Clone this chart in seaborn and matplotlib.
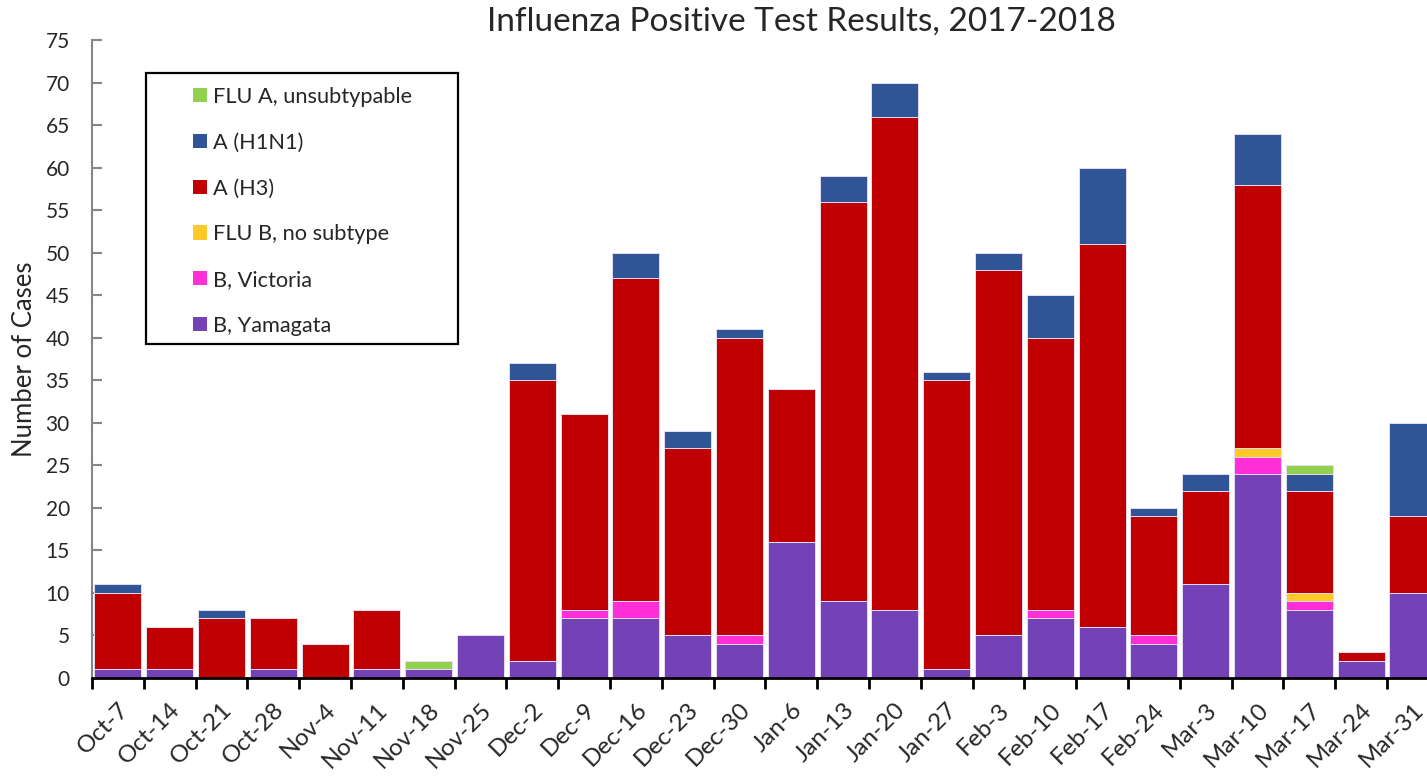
import matplotlib
matplotlib.use("Agg")
import matplotlib.pyplot as plt
from matplotlib.patches import Patch, Rectangle
from matplotlib.ticker import MultipleLocator, FixedLocator
import seaborn as sns
import numpy as np
import pandas as pd

weeks = ["Oct-7", "Oct-14", "Oct-21", "Oct-28", "Nov-4", "Nov-11", "Nov-18", "Nov-25",
         "Dec-2", "Dec-9", "Dec-16", "Dec-23", "Dec-30", "Jan-6", "Jan-13", "Jan-20",
         "Jan-27", "Feb-3", "Feb-10", "Feb-17", "Feb-24", "Mar-3", "Mar-10", "Mar-17",
         "Mar-24", "Mar-31"]

b_yamagata = [1, 1, 0, 1, 0, 1, 1, 5, 2, 7, 7, 5, 4, 16, 9, 8, 1, 5, 7, 6, 4, 11, 24, 8, 2, 10]
b_victoria = [0, 0, 0, 0, 0, 0, 0, 0, 0, 1, 2, 0, 1, 0, 0, 0, 0, 0, 1, 0, 1, 0, 2, 1, 0, 0]
flu_b_nosub = [0, 0, 0, 0, 0, 0, 0, 0, 0, 0, 0, 0, 0, 0, 0, 0, 0, 0, 0, 0, 0, 0, 1, 1, 0, 0]
a_h3 = [9, 5, 7, 6, 4, 7, 0, 0, 33, 23, 38, 22, 35, 18, 47, 58, 34, 43, 32, 45, 14, 11, 31, 12, 1, 9]
a_h1n1 = [1, 0, 1, 0, 0, 0, 0, 0, 2, 0, 3, 2, 1, 0, 3, 4, 1, 2, 5, 9, 1, 2, 6, 2, 0, 11]
flu_a_unsub = [0, 0, 0, 0, 0, 0, 1, 0, 0, 0, 0, 0, 0, 0, 0, 0, 0, 0, 0, 0, 0, 0, 0, 1, 0, 0]

series_names = ["B, Yamagata", "B, Victoria", "FLU B, no subtype", "A (H3)", "A (H1N1)",
                "FLU A, unsubtypable"]
series_vals = [b_yamagata, b_victoria, flu_b_nosub, a_h3, a_h1n1, flu_a_unsub]
colors = ["#7442B7", "#FF2FD8", "#FFCA29", "#C00000", "#2F5597", "#92D050"]

FONT = ["Lato", "DejaVu Sans"]
sns.set_style("white")
plt.rcParams["font.family"] = FONT

W, H = 1427, 777
fig = plt.figure(figsize=(W / 100, H / 100), dpi=100)
cat_w = 51.8
ax_left, ax_bottom, ax_top = 92, 678, 40
ax = fig.add_axes([ax_left / W, (H - ax_bottom) / H, 26 * cat_w / W, (ax_bottom - ax_top) / H])

cum = np.zeros(len(weeks))
cums = []
for v in series_vals:
    cum = cum + np.array(v)
    cums.append(cum.copy())

# draw from top layer down so lower layers overdraw
for name, c, col in reversed(list(zip(series_names, cums, colors))):
    d = pd.DataFrame({"week": weeks, "val": c})
    sns.barplot(data=d, x="week", y="val", color=col, width=0.905, ax=ax,
                edgecolor="#E6DDF0", linewidth=0.7, saturation=1, order=weeks)

ax.set_xlim(-0.5, 25.5)
ax.set_ylim(0, 75)
ax.yaxis.set_major_locator(MultipleLocator(5))

for s in ["top", "right"]:
    ax.spines[s].set_visible(False)
ax.spines["left"].set_color("#868686")
ax.spines["left"].set_linewidth(1.5)
ax.spines["bottom"].set_color("black")
ax.spines["bottom"].set_linewidth(2)

ax.tick_params(axis="y", direction="in", length=7, width=1.5, color="#868686",
               labelsize=15, pad=16, left=True)
ax.set_xticks(range(len(weeks)))
ax.set_xticklabels(weeks, rotation=45, ha="right", rotation_mode="anchor", fontsize=17.5)
ax.tick_params(axis="x", which="major", length=0, pad=15)
ax.xaxis.set_minor_locator(FixedLocator(np.arange(-0.5, 26, 1)))
ax.tick_params(axis="x", which="minor", direction="out", length=8, width=2, color="black", bottom=True)
ax.set_xlabel("")
ax.set_ylabel("Number of Cases", fontsize=18.5, labelpad=6)

fig.text(801 / W, 1 - 22 / H, "Influenza Positive Test Results, 2017-2018",
         ha="center", va="center", fontsize=24)

# legend
handles = [Patch(facecolor=c, edgecolor="none") for c in reversed(colors)]
labels = list(reversed(series_names))
leg = fig.legend(handles, labels, loc="upper left",
                 bbox_to_anchor=(193 / W, 1 - 87 / H), bbox_transform=fig.transFigure,
                 frameon=False, fontsize=15.7, handlelength=0.62, handleheight=0.62,
                 handletextpad=0.3, labelspacing=1.18, borderpad=0, borderaxespad=0)
fig.patches.append(Rectangle((146 / W, 1 - 344 / H), (458 - 146) / W, (344 - 73) / H,
                             transform=fig.transFigure, fill=False, edgecolor="black",
                             linewidth=1.6))

fig.savefig("out.png", dpi=100)
